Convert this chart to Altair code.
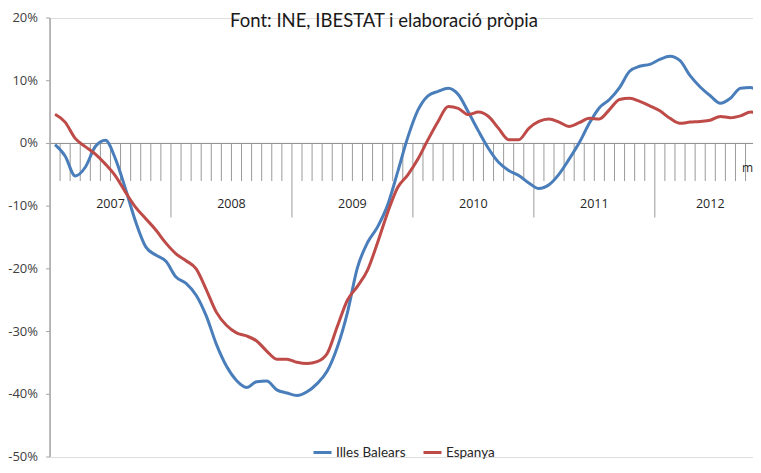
import altair as alt
import pandas as pd

# ---- data (monthly, Jan 2007 .. Nov 2012) ----
months = list(range(71))
illes_balears = [
    -0.2, -2.0, -5.2, -3.8, -0.5, 0.5, -2.5, -7.3, -12.5, -16.5, -17.8, -18.8,
    -21.3, -22.3, -24.2, -27.5, -32.0, -35.5, -37.8, -38.9, -38.0, -37.9, -39.3, -39.8,
    -40.2, -39.6, -38.3, -36.3, -32.5, -27.0, -19.8, -15.8, -13.3, -9.8, -4.5, 1.0,
    5.3, 7.6, 8.3, 8.8, 7.8, 5.0, 2.0, -0.8, -3.0, -4.3, -5.1, -6.3,
    -7.2, -6.6, -4.9, -2.5, 0.1, 3.2, 5.7, 7.0, 8.9, 11.5, 12.3, 12.6,
    13.4, 13.9, 13.2, 10.8, 9.0, 7.6, 6.4, 7.2, 8.8, 8.9, 8.0,
]
espanya = [
    4.65, 3.4, 0.8, -0.5, -1.7, -3.3, -5.2, -7.8, -10.2, -12.0, -13.8, -15.9,
    -17.6, -18.7, -20.0, -23.3, -26.9, -29.0, -30.2, -30.7, -31.5, -33.1, -34.4, -34.4,
    -34.9, -35.1, -34.8, -33.5, -29.2, -25.0, -22.8, -20.2, -15.8, -11.0, -7.0, -5.0,
    -2.5, 0.6, 3.5, 5.9, 5.6, 4.6, 5.0, 4.3, 2.4, 0.6, 0.6, 2.4,
    3.5, 3.9, 3.4, 2.7, 3.3, 4.0, 3.9, 5.4, 7.0, 7.2, 6.7, 6.0,
    5.2, 4.0, 3.2, 3.4, 3.5, 3.7, 4.3, 4.1, 4.4, 5.0, 4.8,
]
series_names = ["Illes Balears", "Espanya"]
series_colors = ["#4A7EBB", "#BE4B48"]
years = ["2007", "2008", "2009", "2010", "2011", "2012"]
y_ticks = [-50, -40, -30, -20, -10, 0, 10, 20]
y_tick_labels = ["-50%", "-40%", "-30%", "-20%", "-10%", "0%", "10%", "20%"]
title_text = "Font: INE, IBESTAT i elaboració pròpia"

# ---- layout ----
W = 703
H = 439
X_MIN, X_MAX = -0.5, 69.24
MONTH_TICK_BOTTOM = -6.0
YEAR_TICK_BOTTOM = -11.8
YEAR_LABEL_Y = -9.6

xscale = alt.Scale(domain=[X_MIN, X_MAX], nice=False, zero=False)
yscale = alt.Scale(domain=[-50, 20], nice=False, zero=False)

lines_df = pd.DataFrame(
    {
        "month": months * 2,
        "value": illes_balears + espanya,
        "series": [series_names[0]] * len(months) + [series_names[1]] * len(months),
    }
)

# month boundary ticks
bounds = [m + 0.5 for m in months[:-1]]
ticks_df = pd.DataFrame(
    {
        "b": bounds,
        "top": [0] * len(bounds),
        "bot": [YEAR_TICK_BOTTOM if (b + 0.5) % 12 == 0 else MONTH_TICK_BOTTOM for b in bounds],
    }
)

# year labels centred on the months present
year_pos = []
for i, yr in enumerate(years):
    ms = [m for m in months if m // 12 == i]
    year_pos.append(sum(ms) / len(ms))
years_df = pd.DataFrame({"year": years, "xc": year_pos, "yl": [YEAR_LABEL_Y] * len(years)})

yt_df = pd.DataFrame({"v": y_ticks, "lab": y_tick_labels})

# y axis (drawn by hand through the y scale)
y_domain = (
    alt.Chart(pd.DataFrame({"a": [-50], "b": [20]}))
    .mark_rule(color="#a6a6a6", strokeWidth=1.5)
    .encode(x=alt.value(0), y=alt.Y("a:Q", scale=yscale, axis=None), y2="b:Q")
)
y_tickmarks = (
    alt.Chart(yt_df)
    .mark_rule(color="#a6a6a6", strokeWidth=1)
    .encode(x=alt.value(-4), x2=alt.value(0), y=alt.Y("v:Q", scale=yscale, axis=None))
)
y_labels = (
    alt.Chart(yt_df)
    .mark_text(font="Open Sans", fontSize=13, color="#404040", align="right", baseline="middle")
    .encode(x=alt.value(-12), y=alt.Y("v:Q", scale=yscale, axis=None), text="lab:N")
)

zero = (
    alt.Chart(pd.DataFrame({"z": [0]}))
    .mark_rule(color="#8c8c8c", strokeWidth=1)
    .encode(x=alt.value(0), x2=alt.value(W), y=alt.Y("z:Q", scale=yscale, axis=None))
)

ticks = (
    alt.Chart(ticks_df)
    .mark_rule(color="#9a9a9a", strokeWidth=1, clip=True)
    .encode(
        x=alt.X("b:Q", scale=xscale, axis=None),
        y=alt.Y("top:Q", scale=yscale, axis=None),
        y2="bot:Q",
    )
)

year_labels = (
    alt.Chart(years_df)
    .mark_text(font="Open Sans", fontSize=12.5, color="#262626", baseline="middle", align="center")
    .encode(
        x=alt.X("xc:Q", scale=xscale, axis=None),
        y=alt.Y("yl:Q", scale=yscale, axis=None),
        text="year:N",
    )
)

lines = (
    alt.Chart(lines_df)
    .mark_line(interpolate="monotone", strokeWidth=3, clip=True)
    .encode(
        x=alt.X("month:Q", scale=xscale, axis=None),
        y=alt.Y("value:Q", scale=yscale, axis=None),
        color=alt.Color(
            "series:N",
            scale=alt.Scale(domain=series_names, range=series_colors),
            sort=series_names,
            legend=alt.Legend(
                title=None,
                orient="none",
                legendX=262,
                legendY=424,
                direction="horizontal",
                symbolType="stroke",
                symbolStrokeWidth=3,
                symbolSize=324,
                labelFont="Lato",
                labelFontSize=13.5,
                labelColor="#262626",
                labelOffset=3,
                columnPadding=11,
            ),
        ),
    )
)

title = (
    alt.Chart(pd.DataFrame({"t": [title_text]}))
    .mark_text(font="Lato", fontSize=18.5, color="#1a1a1a", align="center", baseline="middle")
    .encode(x=alt.value(334), y=alt.value(3), text="t:N")
)

m_text = (
    alt.Chart(pd.DataFrame({"t": ["m"]}))
    .mark_text(font="Open Sans", fontSize=12, color="#262626", align="right", baseline="middle")
    .encode(x=alt.value(W), y=alt.value(150), text="t:N")
)

chart = (
    alt.layer(zero, ticks, y_domain, y_tickmarks, y_labels, year_labels, lines, title, m_text)
    .properties(
        width=W,
        height=H,
        autosize=alt.AutoSizeParams(type="none"),
        padding={"left": 42, "top": 10, "right": 0, "bottom": 8},
    )
    .configure_view(stroke=None)
    .configure(background="white")
)

chart.save("out.html", embed_options={"renderer": "svg", "actions": False})
